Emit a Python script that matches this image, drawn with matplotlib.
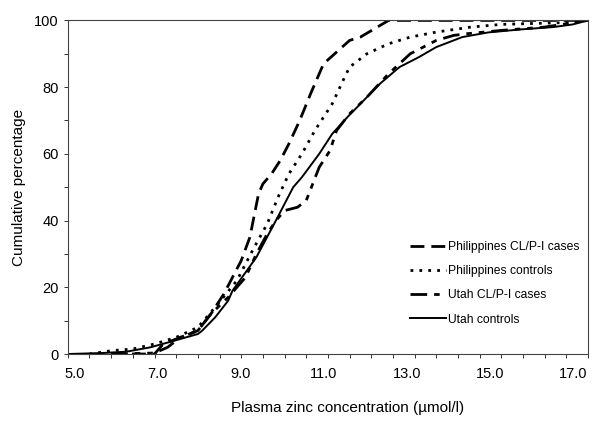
import matplotlib
matplotlib.use('Agg')
import matplotlib.pyplot as plt
import matplotlib.transforms as mtransforms
from matplotlib.ticker import FixedLocator, MultipleLocator, FormatStrFormatter

plt.rcParams['font.family'] = ['Liberation Sans', 'DejaVu Sans']

# cumulative distributions
phil_cases_x = [6.0, 7.0, 7.2, 7.6, 8.0, 8.3, 8.6, 9.0, 9.2, 9.4, 9.5, 9.7, 9.9, 10.1,
                10.35, 10.6, 10.9, 11.5, 11.75, 12.4, 17.0]
phil_cases_y = [0, 0, 3, 5, 7, 12, 18, 28, 35, 48, 51, 54, 58, 63,
                70, 78, 87, 94, 95, 100, 100]

phil_ctrl_x = [5.5, 6.0, 6.5, 7.0, 7.5, 8.0, 8.4, 8.9, 9.3, 9.6, 9.85, 10.1, 10.4, 10.7,
               11.1, 11.35, 11.5, 11.9, 12.4, 12.9, 13.5, 14.3, 15.0, 16.6, 17.0]
phil_ctrl_y = [0, 1, 1.5, 3, 5, 8, 14, 22, 32, 39, 47, 54, 60, 67,
               75, 82, 86, 90, 93, 95, 96.5, 98, 98.8, 99.4, 100]

utah_cases_x = [6.0, 7.0, 7.3, 7.6, 8.0, 8.3, 8.7, 9.1, 9.35, 9.6, 9.8, 10.0, 10.3, 10.5,
                10.8, 11.05, 11.2, 11.5, 11.9, 12.4, 12.9, 13.5, 13.9, 14.2, 15.0, 16.0, 17.0]
utah_cases_y = [0, 0.3, 2, 5, 7, 12, 17, 23, 30, 36, 40, 43, 44, 46,
                56, 61, 67, 72, 77, 84, 90, 94, 95.5, 96, 97, 98, 100]

utah_ctrl_x = [5.0, 5.8, 6.35, 6.9, 7.35, 8.0, 8.1, 8.4, 8.7, 8.8, 9.35, 9.8, 10.2, 10.4,
               10.8, 11.1, 11.45, 11.75, 12.2, 12.65, 13.1, 13.5, 14.1, 14.7, 15.45, 16.2, 16.65, 17.0]
utah_ctrl_y = [0, 0.3, 0.7, 2, 3.6, 6, 7, 11, 16, 19, 29, 40, 50, 53,
               60, 66, 71, 75, 81, 86, 89, 92, 95, 96.4, 97.3, 98, 98.8, 100]

x_ticks = [5, 7, 9, 11, 13, 15, 17]

fig = plt.figure(figsize=(6, 4.25), dpi=100)
ax = fig.add_axes([0.113, 0.167, 0.867, 0.785])

ax.plot(phil_cases_x, phil_cases_y, color='black', lw=2.0, dashes=(5, 2.5),
        label='Philippines CL/P-I cases')
ax.plot(phil_ctrl_x, phil_ctrl_y, color='black', lw=2.0, dashes=(1, 2.2),
        label='Philippines controls')
ax.plot(utah_cases_x, utah_cases_y, color='black', lw=2.0, dashes=(6, 2.5, 2, 2.5, 2, 2.5),
        label='Utah CL/P-I cases')
ax.plot(utah_ctrl_x, utah_ctrl_y, color='black', lw=1.4, label='Utah controls')

ax.set_xlim(5, 17)
ax.set_ylim(0, 100)
ax.xaxis.set_major_locator(FixedLocator(x_ticks))
ax.xaxis.set_major_formatter(FormatStrFormatter('%.1f'))
ax.xaxis.set_minor_locator(MultipleLocator(0.5))
ax.yaxis.set_major_locator(MultipleLocator(20))
ax.yaxis.set_minor_locator(MultipleLocator(10))
ax.tick_params(which='both', direction='out', length=3, width=0.7, colors='#333333',
               labelcolor='black', labelsize=10.5)
ax.tick_params(axis='x', pad=6)
for s in ax.spines.values():
    s.set_linewidth(0.8)
    s.set_color('#444444')

# the x labels in the original sit slightly inside the tick positions
for i, lab in enumerate(ax.get_xticklabels()):
    dx = (7 - 3.7 * i) / 100
    lab.set_transform(lab.get_transform() + mtransforms.ScaledTranslation(dx, 0, fig.dpi_scale_trans))

ax.set_xlabel('Plasma zinc concentration (µmol/l)', fontsize=11)
ax.xaxis.set_label_coords(0.538, -0.14)
ax.set_ylabel('Cumulative percentage', fontsize=11, labelpad=6)

ax.legend(loc='upper left', bbox_to_anchor=(0.658, 0.338), frameon=False, fontsize=8.7,
          handlelength=3.0, handletextpad=0.1, labelspacing=1.0, borderpad=0,
          borderaxespad=0)

fig.savefig('out.png', dpi=100)
